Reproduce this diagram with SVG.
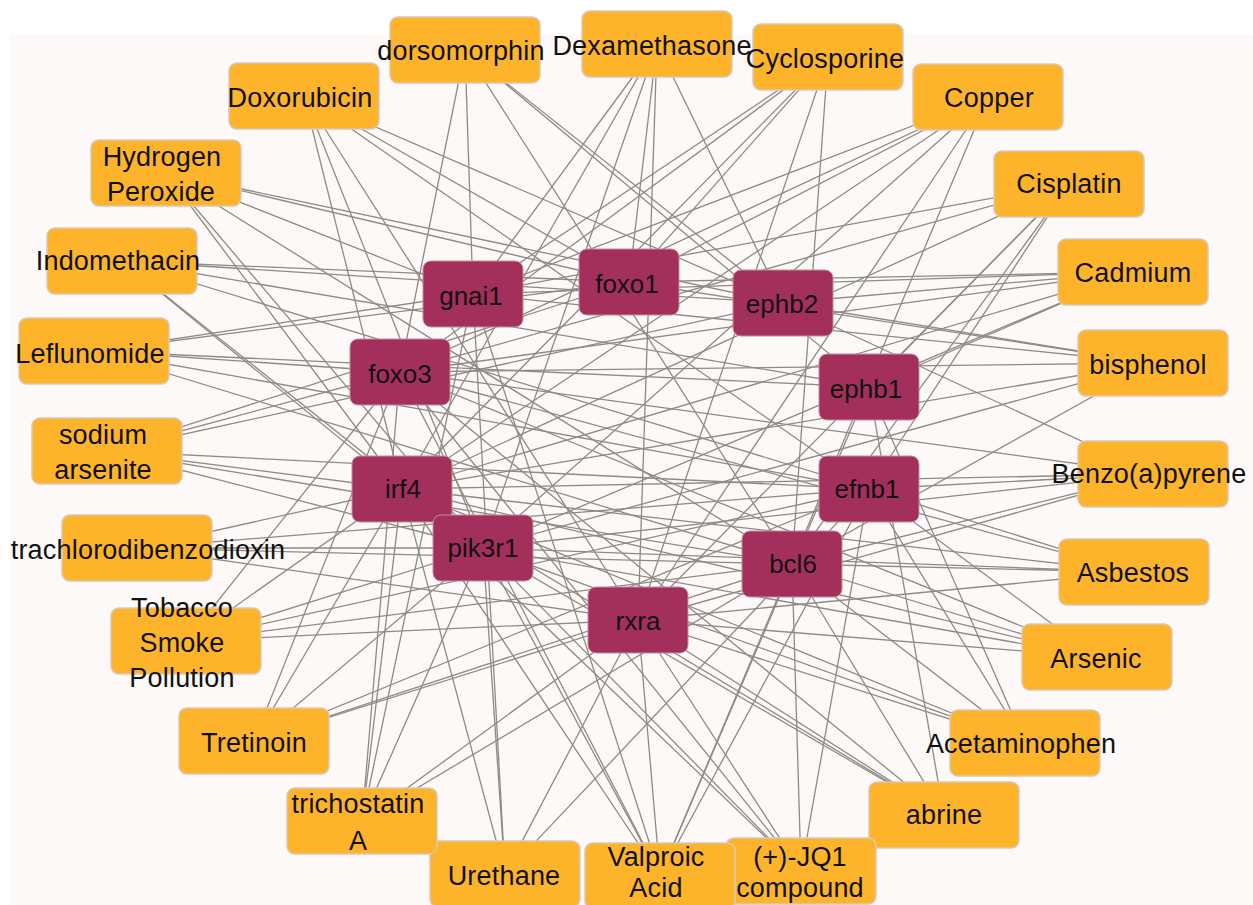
<svg xmlns="http://www.w3.org/2000/svg" width="1253" height="905" viewBox="0 0 1253 905">
<style>
.bg{fill:#FCF9F8}
.edges line{stroke:#918984;stroke-width:1.3}
.chem rect{fill:#FDB42B;stroke:#D8C8B8;stroke-width:1.5}
.gene rect{fill:#A3305B;stroke:#C48C9C;stroke-width:1}
text{font-family:"Liberation Sans",Arial,sans-serif;font-size:27px;fill:#111111;text-anchor:middle}
.gene text{font-size:26px}
.chem text{letter-spacing:0.2px}
</style>
<rect width="1253" height="905" fill="#FFFFFF"/>
<rect class="bg" x="10" y="35" width="1243" height="870"/>
<g class="edges">
<!-- dorsomorphin -->
<line x1="465" y1="50" x2="400" y2="372"/><line x1="465" y1="50" x2="473" y2="294"/><line x1="465" y1="50" x2="792" y2="564"/><line x1="465" y1="50" x2="783" y2="303"/><line x1="465" y1="50" x2="869" y2="387"/>
<!-- Dexamethasone -->
<line x1="657" y1="44" x2="402" y2="489"/><line x1="657" y1="44" x2="483" y2="548"/><line x1="657" y1="44" x2="629" y2="282"/><line x1="657" y1="44" x2="638" y2="620"/><line x1="657" y1="44" x2="783" y2="303"/><line x1="657" y1="44" x2="473" y2="294"/>
<!-- Cyclosporine -->
<line x1="828" y1="57" x2="473" y2="294"/><line x1="828" y1="57" x2="400" y2="372"/><line x1="828" y1="57" x2="402" y2="489"/><line x1="828" y1="57" x2="629" y2="282"/><line x1="828" y1="57" x2="638" y2="620"/><line x1="828" y1="57" x2="792" y2="564"/>
<!-- Copper -->
<line x1="988" y1="97" x2="473" y2="294"/><line x1="988" y1="97" x2="400" y2="372"/><line x1="988" y1="97" x2="629" y2="282"/><line x1="988" y1="97" x2="402" y2="489"/><line x1="988" y1="97" x2="483" y2="548"/><line x1="988" y1="97" x2="638" y2="620"/><line x1="988" y1="97" x2="792" y2="564"/>
<!-- Cisplatin -->
<line x1="1069" y1="184" x2="473" y2="294"/><line x1="1069" y1="184" x2="400" y2="372"/><line x1="1069" y1="184" x2="402" y2="489"/><line x1="1069" y1="184" x2="869" y2="387"/><line x1="1069" y1="184" x2="869" y2="489"/><line x1="1069" y1="184" x2="792" y2="564"/><line x1="1069" y1="184" x2="638" y2="620"/>
<!-- Cadmium -->
<line x1="1133" y1="272" x2="629" y2="282"/><line x1="1133" y1="272" x2="473" y2="294"/><line x1="1133" y1="272" x2="783" y2="303"/><line x1="1133" y1="272" x2="400" y2="372"/><line x1="1133" y1="272" x2="869" y2="387"/><line x1="1133" y1="272" x2="402" y2="489"/><line x1="1133" y1="272" x2="483" y2="548"/>
<!-- bisphenol -->
<line x1="1153" y1="363" x2="473" y2="294"/><line x1="1153" y1="363" x2="629" y2="282"/><line x1="1153" y1="363" x2="400" y2="372"/><line x1="1153" y1="363" x2="402" y2="489"/><line x1="1153" y1="363" x2="483" y2="548"/><line x1="1153" y1="363" x2="792" y2="564"/><line x1="1153" y1="363" x2="783" y2="303"/>
<!-- Benzo(a)pyrene -->
<line x1="1153" y1="474" x2="402" y2="489"/><line x1="1153" y1="474" x2="483" y2="548"/><line x1="1153" y1="474" x2="792" y2="564"/><line x1="1153" y1="474" x2="783" y2="303"/><line x1="1153" y1="474" x2="400" y2="372"/><line x1="1153" y1="474" x2="638" y2="620"/><line x1="1153" y1="474" x2="869" y2="489"/>
<!-- Asbestos -->
<line x1="1134" y1="572" x2="483" y2="548"/><line x1="1134" y1="572" x2="792" y2="564"/><line x1="1134" y1="572" x2="402" y2="489"/><line x1="1134" y1="572" x2="869" y2="489"/><line x1="1134" y1="572" x2="400" y2="372"/><line x1="1134" y1="572" x2="638" y2="620"/>
<!-- Arsenic -->
<line x1="1097" y1="657" x2="483" y2="548"/><line x1="1097" y1="657" x2="638" y2="620"/><line x1="1097" y1="657" x2="792" y2="564"/><line x1="1097" y1="657" x2="402" y2="489"/><line x1="1097" y1="657" x2="869" y2="489"/><line x1="1097" y1="657" x2="400" y2="372"/>
<!-- Acetaminophen -->
<line x1="1025" y1="743" x2="869" y2="387"/><line x1="1025" y1="743" x2="869" y2="489"/><line x1="1025" y1="743" x2="792" y2="564"/><line x1="1025" y1="743" x2="402" y2="489"/><line x1="1025" y1="743" x2="638" y2="620"/><line x1="1025" y1="743" x2="483" y2="548"/>
<!-- abrine -->
<line x1="944" y1="815" x2="792" y2="564"/><line x1="944" y1="815" x2="869" y2="387"/><line x1="944" y1="815" x2="638" y2="620"/><line x1="944" y1="815" x2="483" y2="548"/><line x1="944" y1="815" x2="402" y2="489"/><line x1="944" y1="815" x2="400" y2="372"/>
<!-- (+)-JQ1 compound -->
<line x1="801" y1="871" x2="792" y2="564"/><line x1="801" y1="871" x2="869" y2="489"/><line x1="801" y1="871" x2="402" y2="489"/><line x1="801" y1="871" x2="483" y2="548"/><line x1="801" y1="871" x2="400" y2="372"/><line x1="801" y1="871" x2="638" y2="620"/>
<!-- Valproic Acid -->
<line x1="660" y1="876" x2="638" y2="620"/><line x1="660" y1="876" x2="483" y2="548"/><line x1="660" y1="876" x2="402" y2="489"/><line x1="660" y1="876" x2="400" y2="372"/><line x1="660" y1="876" x2="473" y2="294"/><line x1="660" y1="876" x2="869" y2="387"/><line x1="660" y1="876" x2="869" y2="489"/><line x1="660" y1="876" x2="792" y2="564"/>
<!-- Urethane -->
<line x1="505" y1="874" x2="483" y2="548"/><line x1="505" y1="874" x2="402" y2="489"/><line x1="505" y1="874" x2="638" y2="620"/><line x1="505" y1="874" x2="869" y2="489"/><line x1="505" y1="874" x2="473" y2="294"/>
<!-- trichostatin A -->
<line x1="362" y1="821" x2="402" y2="489"/><line x1="362" y1="821" x2="473" y2="294"/><line x1="362" y1="821" x2="483" y2="548"/><line x1="362" y1="821" x2="638" y2="620"/><line x1="362" y1="821" x2="792" y2="564"/><line x1="362" y1="821" x2="400" y2="372"/>
<!-- Tretinoin -->
<line x1="254" y1="741" x2="400" y2="372"/><line x1="254" y1="741" x2="402" y2="489"/><line x1="254" y1="741" x2="483" y2="548"/><line x1="254" y1="741" x2="869" y2="489"/><line x1="254" y1="741" x2="638" y2="620"/><line x1="254" y1="741" x2="792" y2="564"/>
<!-- Tobacco Smoke Pollution -->
<line x1="186" y1="641" x2="638" y2="620"/><line x1="186" y1="641" x2="792" y2="564"/><line x1="186" y1="641" x2="869" y2="489"/><line x1="186" y1="641" x2="483" y2="548"/><line x1="186" y1="641" x2="402" y2="489"/><line x1="186" y1="641" x2="400" y2="372"/>
<!-- trachlorodibenzodioxin -->
<line x1="137" y1="548" x2="402" y2="489"/><line x1="137" y1="548" x2="483" y2="548"/><line x1="137" y1="548" x2="792" y2="564"/><line x1="137" y1="548" x2="638" y2="620"/><line x1="137" y1="548" x2="869" y2="489"/>
<!-- sodium arsenite -->
<line x1="107" y1="451" x2="400" y2="372"/><line x1="107" y1="451" x2="783" y2="303"/><line x1="107" y1="451" x2="629" y2="282"/><line x1="107" y1="451" x2="869" y2="489"/><line x1="107" y1="451" x2="483" y2="548"/><line x1="107" y1="451" x2="402" y2="489"/><line x1="107" y1="451" x2="792" y2="564"/>
<!-- Leflunomide -->
<line x1="94" y1="351" x2="473" y2="294"/><line x1="94" y1="351" x2="629" y2="282"/><line x1="94" y1="351" x2="400" y2="372"/><line x1="94" y1="351" x2="869" y2="387"/><line x1="94" y1="351" x2="792" y2="564"/><line x1="94" y1="351" x2="869" y2="489"/>
<!-- Indomethacin -->
<line x1="122" y1="261" x2="629" y2="282"/><line x1="122" y1="261" x2="783" y2="303"/><line x1="122" y1="261" x2="869" y2="387"/><line x1="122" y1="261" x2="483" y2="548"/><line x1="122" y1="261" x2="402" y2="489"/><line x1="122" y1="261" x2="869" y2="489"/>
<!-- Hydrogen Peroxide -->
<line x1="166" y1="173" x2="629" y2="282"/><line x1="166" y1="173" x2="783" y2="303"/><line x1="166" y1="173" x2="473" y2="294"/><line x1="166" y1="173" x2="483" y2="548"/><line x1="166" y1="173" x2="402" y2="489"/><line x1="166" y1="173" x2="792" y2="564"/>
<!-- Doxorubicin -->
<line x1="304" y1="96" x2="402" y2="489"/><line x1="304" y1="96" x2="483" y2="548"/><line x1="304" y1="96" x2="638" y2="620"/><line x1="304" y1="96" x2="783" y2="303"/><line x1="304" y1="96" x2="869" y2="489"/><line x1="304" y1="96" x2="629" y2="282"/>
</g>
<!-- gene nodes -->
<g id="gnai1" class="gene"><rect x="423" y="261" width="100" height="66" rx="8"/><text x="471" y="305">gnai1</text></g>
<g id="foxo1" class="gene"><rect x="579" y="249" width="100" height="66" rx="8"/><text x="627" y="293">foxo1</text></g>
<g id="ephb2" class="gene"><rect x="733" y="270" width="100" height="66" rx="8"/><text x="782" y="313">ephb2</text></g>
<g id="foxo3" class="gene"><rect x="350" y="339" width="100" height="66" rx="8"/><text x="400" y="383">foxo3</text></g>
<g id="ephb1" class="gene"><rect x="819" y="354" width="100" height="66" rx="8"/><text x="866" y="398">ephb1</text></g>
<g id="irf4" class="gene"><rect x="352" y="456" width="100" height="66" rx="8"/><text x="403" y="498">irf4</text></g>
<g id="efnb1" class="gene"><rect x="819" y="456" width="100" height="66" rx="8"/><text x="867" y="498">efnb1</text></g>
<g id="pik3r1" class="gene"><rect x="433" y="515" width="100" height="66" rx="8"/><text x="483" y="557">pik3r1</text></g>
<g id="bcl6" class="gene"><rect x="742" y="531" width="100" height="66" rx="8"/><text x="793" y="573">bcl6</text></g>
<g id="rxra" class="gene"><rect x="588" y="587" width="100" height="66" rx="8"/><text x="638" y="630">rxra</text></g>
<!-- chemical nodes -->
<g id="dorsomorphin" class="chem"><rect x="390" y="17" width="150" height="66" rx="8"/><text x="461" y="60">dorsomorphin</text></g>
<g id="cyclosporine" class="chem"><rect x="753" y="24" width="150" height="66" rx="8"/><text x="825" y="68">Cyclosporine</text></g>
<g id="dexamethasone" class="chem"><rect x="582" y="11" width="150" height="66" rx="8"/><text x="652" y="55">Dexamethasone</text></g>
<g id="copper" class="chem"><rect x="913" y="64" width="150" height="66" rx="8"/><text x="989" y="107">Copper</text></g>
<g id="cisplatin" class="chem"><rect x="994" y="151" width="150" height="66" rx="8"/><text x="1069" y="193">Cisplatin</text></g>
<g id="cadmium" class="chem"><rect x="1058" y="239" width="150" height="66" rx="8"/><text x="1133" y="282">Cadmium</text></g>
<g id="bisphenol" class="chem"><rect x="1078" y="330" width="150" height="66" rx="8"/><text x="1148" y="374">bisphenol</text></g>
<g id="benzopyrene" class="chem"><rect x="1078" y="441" width="150" height="66" rx="8"/><text x="1149" y="483">Benzo(a)pyrene</text></g>
<g id="asbestos" class="chem"><rect x="1059" y="539" width="150" height="66" rx="8"/><text x="1133" y="582">Asbestos</text></g>
<g id="arsenic" class="chem"><rect x="1022" y="624" width="150" height="66" rx="8"/><text x="1096" y="668">Arsenic</text></g>
<g id="acetaminophen" class="chem"><rect x="950" y="710" width="150" height="66" rx="8"/><text x="1021" y="753">Acetaminophen</text></g>
<g id="abrine" class="chem"><rect x="869" y="782" width="150" height="66" rx="8"/><text x="944" y="824">abrine</text></g>
<g id="jq1" class="chem"><rect x="726" y="838" width="150" height="66" rx="8"/><text x="800" y="866">(+)-JQ1</text><text x="800" y="897">compound</text></g>
<g id="valproic" class="chem"><rect x="585" y="843" width="150" height="66" rx="8"/><text x="656" y="866">Valproic</text><text x="656" y="897">Acid</text></g>
<g id="urethane" class="chem"><rect x="430" y="841" width="150" height="66" rx="8"/><text x="504" y="885">Urethane</text></g>
<g id="trichostatin" class="chem"><rect x="287" y="788" width="150" height="66" rx="8"/><text x="358" y="813">trichostatin</text><text x="358" y="850">A</text></g>
<g id="tretinoin" class="chem"><rect x="179" y="708" width="150" height="66" rx="8"/><text x="254" y="752">Tretinoin</text></g>
<g id="tobacco" class="chem"><rect x="111" y="608" width="150" height="66" rx="8"/><text x="182" y="617">Tobacco</text><text x="182" y="652">Smoke</text><text x="182" y="687">Pollution</text></g>
<g id="tcdd" class="chem"><rect x="62" y="515" width="150" height="66" rx="8"/><text x="148" y="559">trachlorodibenzodioxin</text></g>
<g id="sodiumarsenite" class="chem"><rect x="32" y="418" width="150" height="66" rx="8"/><text x="103" y="444">sodium</text><text x="103" y="479">arsenite</text></g>
<g id="leflunomide" class="chem"><rect x="19" y="318" width="150" height="66" rx="8"/><text x="90" y="363">Leflunomide</text></g>
<g id="indomethacin" class="chem"><rect x="47" y="228" width="150" height="66" rx="8"/><text x="118" y="270">Indomethacin</text></g>
<g id="hydrogenperoxide" class="chem"><rect x="91" y="140" width="150" height="66" rx="8"/><text x="162" y="166">Hydrogen</text><text x="161" y="201">Peroxide</text></g>
<g id="doxorubicin" class="chem"><rect x="229" y="63" width="150" height="66" rx="8"/><text x="300" y="107">Doxorubicin</text></g>
</svg>
